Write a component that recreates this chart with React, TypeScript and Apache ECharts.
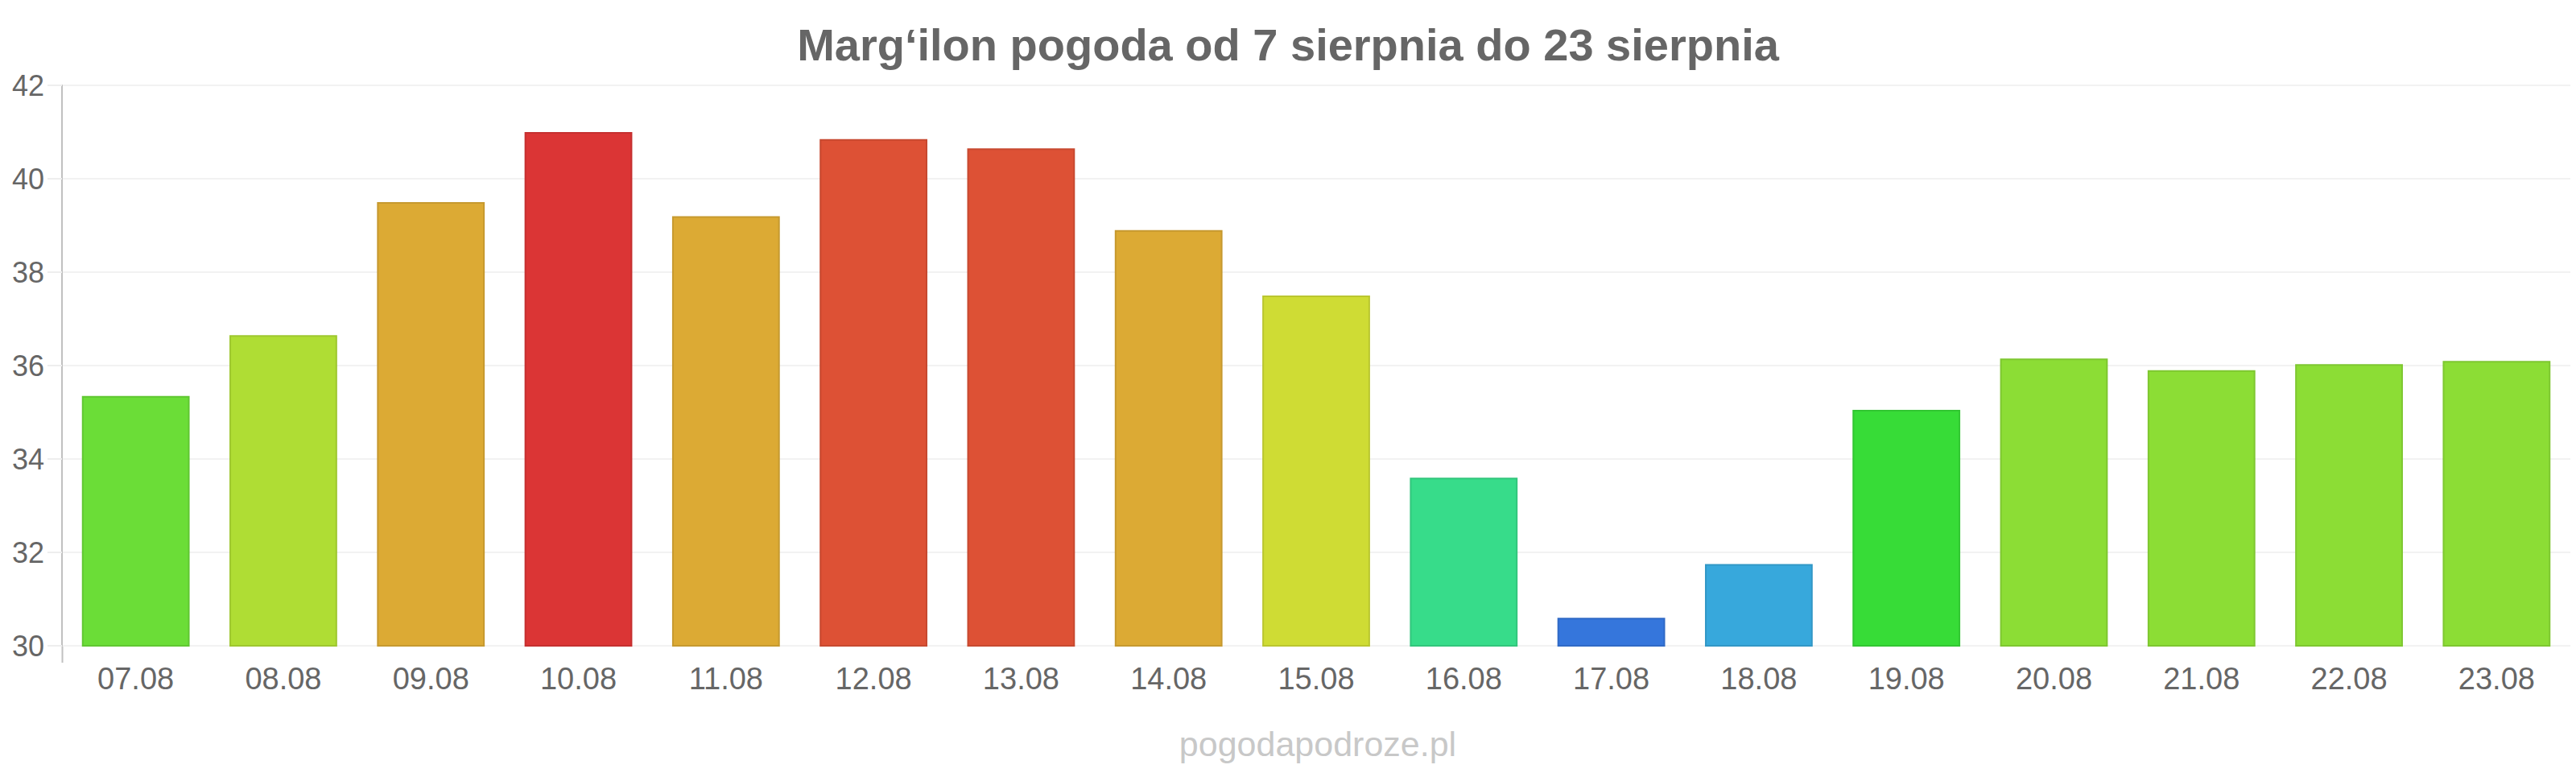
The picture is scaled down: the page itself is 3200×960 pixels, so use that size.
import React, { useEffect, useRef } from "react";
import * as echarts from "echarts";

const titleText = "Marg‘ilon pogoda od 7 sierpnia do 23 sierpnia";
const footerText = "pogodapodroze.pl";
const categories = ["07.08", "08.08", "09.08", "10.08", "11.08", "12.08", "13.08", "14.08", "15.08", "16.08", "17.08", "18.08", "19.08", "20.08", "21.08", "22.08", "23.08"];
const values = [35.35, 36.65, 39.5, 41.0, 39.2, 40.85, 40.65, 38.9, 37.5, 33.6, 30.6, 31.75, 35.05, 36.15, 35.9, 36.03, 36.1];
const barColors = ["#6bdd37", "#afdd34", "#dcaa34", "#db3535", "#dcaa34", "#dd5135", "#dd5135", "#dcaa34", "#cfdc34", "#37dc8a", "#3576dc", "#37a8dc", "#37dc37", "#8cdd35", "#8cdd35", "#8cdd35", "#8cdd35"];
const yTicks = [30, 32, 34, 36, 38, 40, 42];

function darken(hex: string, f: number) {
  const n = parseInt(hex.slice(1), 16);
  const r = Math.round(((n >> 16) & 255) * f);
  const g = Math.round(((n >> 8) & 255) * f);
  const b = Math.round((n & 255) * f);
  return "rgb(" + r + "," + g + "," + b + ")";
}

export default function App() {
  const ref = useRef<HTMLDivElement>(null);
  useEffect(() => {
    document.body.style.margin = "0";
    const chart = echarts.init(ref.current!, null, { renderer: "svg" });
    const font = "'Liberation Sans', Arial, sans-serif";
    chart.setOption({
      animation: false,
      backgroundColor: "#ffffff",
      title: {
        text: titleText,
        left: "center",
        top: 22,
        textStyle: { fontFamily: font, fontSize: 56, fontWeight: "bold", color: "#666666" },
      },
      graphic: [
        {
          type: "text",
          x: 1637,
          y: 902,
          style: { text: footerText, fontFamily: font, fontSize: 43, fill: "#c8c8c8", textAlign: "center" },
        },
        {
          type: "line",
          shape: { x1: 77.5, y1: 802, x2: 77.5, y2: 823 },
          style: { stroke: "#c0c0c0", lineWidth: 2 },
        },
      ],
      grid: { left: 77, right: 7, top: 106, bottom: 158, containLabel: false },
      xAxis: {
        type: "category",
        data: categories,
        axisLine: { show: false },
        axisTick: { show: false },
        axisLabel: { fontFamily: font, fontSize: 38, color: "#666666", margin: 22 },
      },
      yAxis: {
        type: "value",
        min: yTicks[0],
        max: yTicks[yTicks.length - 1],
        interval: 2,
        axisLine: { show: true, lineStyle: { color: "#c0c0c0", width: 2 } },
        axisTick: { show: true, length: 18, lineStyle: { color: "#eeeeee", width: 2 } },
        splitLine: { show: true, lineStyle: { color: "#f2f2f2", width: 2 } },
        axisLabel: { fontFamily: font, fontSize: 36, color: "#666666", margin: 22 },
      },
      series: [
        {
          type: "bar",
          data: values.map((v, i) => ({
            value: v,
            itemStyle: { color: barColors[i], borderColor: darken(barColors[i], 0.9), borderWidth: 2 },
          })),
          barCategoryGap: "27%",
        },
      ],
    });
    return () => chart.dispose();
  }, []);
  return <div ref={ref} style={{ width: 3200, height: 960 }} />;
}
